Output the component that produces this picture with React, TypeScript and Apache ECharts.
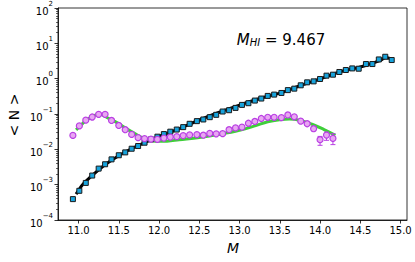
import React, { useEffect, useRef } from "react";
import * as echarts from "echarts";

// halo mass bins (log M)
const massBins = [
  10.93, 11.01, 11.09, 11.17, 11.25, 11.33, 11.41, 11.5, 11.58, 11.66,
  11.74, 11.82, 11.9, 11.98, 12.06, 12.14, 12.22, 12.3, 12.38, 12.47,
  12.55, 12.63, 12.71, 12.79, 12.87, 12.95, 13.03, 13.11, 13.19, 13.27,
  13.35, 13.43, 13.52, 13.6, 13.68, 13.76, 13.84, 13.92, 14.0, 14.08,
  14.16, 14.24, 14.32, 14.4, 14.48, 14.57, 14.65, 14.73, 14.81, 14.89,
];

// squares (satellites)
const satValues = [
  3.9e-4, 6.7e-4, 1.12e-3, 1.81e-3, 2.85e-3, 3.78e-3, 5.2e-3, 6.8e-3, 8.2e-3, 1.04e-2,
  1.24e-2, 1.54e-2, 1.91e-2, 2.28e-2, 2.7e-2, 3.16e-2, 3.63e-2, 4.25e-2, 5.28e-2, 6.28e-2,
  7.0e-2, 8.13e-2, 9.48e-2, 0.1175, 0.128, 0.149, 0.181, 0.202, 0.24, 0.274,
  0.325, 0.354, 0.394, 0.474, 0.522, 0.649, 0.787, 0.839, 0.979, 1.216,
  1.297, 1.545, 1.758, 1.95, 1.914, 2.594, 2.594, 3.5, 4.17, 3.37,
];

// circles (centrals)
const cenValues = [
  0.0248, 0.0459, 0.0668, 0.0822, 0.098, 0.098, 0.0656, 0.0474, 0.0359, 0.0265,
  0.0214, 0.02, 0.0195, 0.0191, 0.0208, 0.0222, 0.0228, 0.0245, 0.0256, 0.0261,
  0.0251, 0.0282, 0.0274, 0.0277, 0.0359, 0.0404, 0.0425, 0.0547, 0.0615, 0.0746,
  0.0807, 0.0807, 0.0793, 0.0938, 0.0834, 0.0627, 0.053, 0.0383, 0.0187, 0.0253,
  0.0204,
];

// error bars on circles: bin index, low, high
const errIndex = [35, 36, 37, 38, 39, 40];
const errLow = [0.058, 0.048, 0.033, 0.013, 0.018, 0.0136];
const errHigh = [0.068, 0.058, 0.044, 0.0232, 0.0307, 0.0277];

// black model curve (satellites)
const satModelX = [10.97, 11.05, 11.15, 11.25, 11.35, 11.5, 11.65, 11.8, 12.0, 12.25, 12.5, 12.75, 13.0, 13.25, 13.5, 13.75, 14.0, 14.25, 14.5, 14.75, 14.82, 14.89];
const satModelY = [5.4e-4, 1.0e-3, 1.66e-3, 2.63e-3, 3.98e-3, 6.6e-3, 1.02e-2, 1.48e-2, 2.34e-2, 3.8e-2, 6.76e-2, 0.112, 0.178, 0.275, 0.389, 0.631, 0.977, 1.58, 2.14, 3.31, 3.98, 3.55];

// green model curve (centrals)
const cenModelX = [10.97, 11.05, 11.12, 11.2, 11.26, 11.31, 11.37, 11.45, 11.54, 11.62, 11.7, 11.8, 11.9, 12.0, 12.1, 12.25, 12.5, 12.75, 13.0, 13.2, 13.35, 13.5, 13.62, 13.75, 13.9, 14.05, 14.19];
const cenModelY = [0.0355, 0.0537, 0.0724, 0.0912, 0.0977, 0.0912, 0.0759, 0.0617, 0.0468, 0.0355, 0.0279, 0.0209, 0.0178, 0.0168, 0.017, 0.0186, 0.0216, 0.0266, 0.0347, 0.0468, 0.0603, 0.0692, 0.0724, 0.0661, 0.0513, 0.0363, 0.0251];

const xTicks = [11.0, 11.5, 12.0, 12.5, 13.0, 13.5, 14.0, 14.5, 15.0];
const yTicks = [1e-4, 1e-3, 1e-2, 1e-1, 1e0, 1e1, 1e2];
const yMinorTicks: number[] = [];
for (let e = -4; e < 2; e++) for (let m = 2; m <= 9; m++) yMinorTicks.push(m * Math.pow(10, e));

const FONT = "DejaVu Sans";
const SQUARE_FILL = "#17a3dc";
const CIRCLE_EDGE = "#b93fe3";
const CIRCLE_FILL = "#e8a6f2";
const GREEN = "#3fce3a";

export default function App() {
  const ref = useRef<HTMLDivElement>(null);
  useEffect(() => {
    if (!ref.current) return;
    const chart = echarts.init(ref.current, null, { renderer: "svg" });
    const supMinus = (n: number) => (n < 0 ? "\u2212" + Math.abs(n) : String(n));
    chart.setOption({
      animation: false,
      grid: {
        left: 58,
        right: 8,
        top: 7,
        bottom: 42,
        show: true,
        borderColor: "#000",
        borderWidth: 0.8,
        backgroundColor: "transparent",
      },
      xAxis: {
        type: "value",
        min: 10.745,
        max: 15.08,
        splitLine: { show: false },
        axisLine: { lineStyle: { color: "#000", width: 0.8 } },
        axisTick: { customValues: xTicks, length: 3.5, lineStyle: { color: "#000", width: 0.8 } },
        axisLabel: {
          customValues: xTicks,
          formatter: (v: number) => v.toFixed(1),
          fontFamily: FONT,
          fontSize: 10,
          color: "#000",
          margin: 5,
        },
      },
      yAxis: [
        {
          type: "log",
          logBase: 10,
          min: 1e-4,
          max: 1e2,
          splitLine: { show: false },
          axisLine: { lineStyle: { color: "#000", width: 0.8 } },
          axisTick: { customValues: yTicks, length: 3.5, lineStyle: { color: "#000", width: 0.8 } },
          axisLabel: {
            customValues: yTicks,
            formatter: (v: number) => {
              const e = Math.round(Math.log10(v));
              return "{b|10}{s|" + supMinus(e) + "}";
            },
            margin: 5,
            rich: {
              b: { fontFamily: FONT, fontSize: 10, color: "#000", lineHeight: 16, verticalAlign: "bottom" },
              s: { fontFamily: FONT, fontSize: 7, color: "#000", lineHeight: 8, verticalAlign: "top" },
            },
          },
        },
        {
          type: "log",
          logBase: 10,
          min: 1e-4,
          max: 1e2,
          position: "left",
          splitLine: { show: false },
          axisLine: { show: false },
          axisTick: { customValues: yMinorTicks, length: 2, lineStyle: { color: "#000", width: 0.6 } },
          axisLabel: { show: false },
        },
      ],
      graphic: [
        {
          type: "text",
          x: 281,
          y: 38,
          style: {
            text: "{i|M}{sub|HI}{r| = 9.467}",
            align: "center",
            verticalAlign: "middle",
            rich: {
              i: { fontFamily: FONT, fontStyle: "italic", fontSize: 15, color: "#000", verticalAlign: "bottom", lineHeight: 18 },
              sub: { fontFamily: FONT, fontStyle: "italic", fontSize: 10, color: "#000", verticalAlign: "bottom", lineHeight: 14 },
              r: { fontFamily: FONT, fontSize: 15, color: "#000", verticalAlign: "bottom", lineHeight: 18 },
            },
          },
        },
        {
          type: "text",
          x: 233,
          y: 248,
          style: {
            text: "M",
            fontFamily: FONT,
            fontStyle: "italic",
            fontSize: 14,
            fill: "#000",
            align: "center",
            verticalAlign: "middle",
          },
        },
        {
          type: "text",
          x: 14,
          y: 115,
          rotation: Math.PI / 2,
          style: {
            text: "< N >",
            fontFamily: FONT,
            fontSize: 14,
            fill: "#000",
            align: "center",
            verticalAlign: "middle",
          },
        },
      ],
      series: [
        {
          type: "line",
          data: satModelX.map((x, i) => [x, satModelY[i]]),
          showSymbol: false,
          smooth: 0.3,
          lineStyle: { color: "#000", width: 3 },
          z: 1,
        },
        {
          type: "line",
          data: cenModelX.map((x, i) => [x, cenModelY[i]]),
          showSymbol: false,
          smooth: 0.4,
          lineStyle: { color: GREEN, width: 3 },
          z: 2,
        },
        {
          type: "scatter",
          data: massBins.map((x, i) => [x, satValues[i]]),
          symbol: "rect",
          symbolSize: 5,
          itemStyle: { color: SQUARE_FILL, borderColor: "#1a1a1a", borderWidth: 1, opacity: 1 },
          z: 3,
        },
        {
          type: "custom",
          data: errIndex.map((k, i) => [massBins[k], errLow[i], errHigh[i]]),
          encode: { x: 0, y: [1, 2] },
          renderItem: (params: any, api: any) => {
            const x = api.value(0);
            const lo = api.coord([x, api.value(1)]);
            const hi = api.coord([x, api.value(2)]);
            const c = 2.5;
            const st = { stroke: CIRCLE_EDGE, lineWidth: 1 };
            return {
              type: "group",
              children: [
                { type: "line", shape: { x1: lo[0], y1: lo[1], x2: hi[0], y2: hi[1] }, style: st },
                { type: "line", shape: { x1: lo[0] - c, y1: lo[1], x2: lo[0] + c, y2: lo[1] }, style: st },
                { type: "line", shape: { x1: hi[0] - c, y1: hi[1], x2: hi[0] + c, y2: hi[1] }, style: st },
              ],
            };
          },
          z: 4,
        },
        {
          type: "scatter",
          data: cenValues.map((v, i) => [massBins[i], v]),
          symbol: "circle",
          symbolSize: 6,
          itemStyle: { color: CIRCLE_FILL, borderColor: CIRCLE_EDGE, borderWidth: 1.2, opacity: 1 },
          z: 5,
        },
      ],
    });
    return () => chart.dispose();
  }, []);
  return <div ref={ref} style={{ width: 415, height: 262, position: "absolute", left: 0, top: 0 }} />;
}
